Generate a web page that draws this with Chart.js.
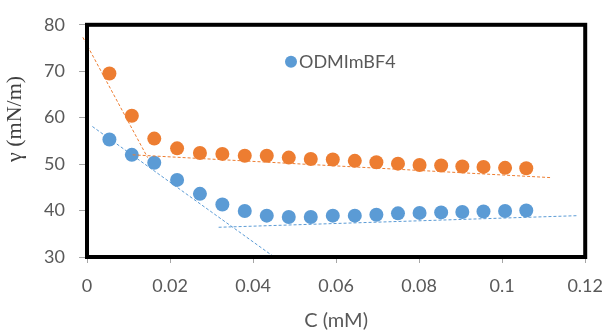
<!DOCTYPE html>
<html>
<head>
<meta charset="utf-8">
<script src="https://cdn.jsdelivr.net/npm/chart.js@4.4.1/dist/chart.umd.min.js"></script>
<style>
  html, body { margin: 0; padding: 0; background: #fff; }
  #wrap { width: 615px; height: 335px; }
</style>
</head>
<body>
<div id="wrap"><canvas id="surfChart" width="615" height="335"></canvas></div>
<script>
// concentration C (mM)
const concentrations = [0.0054, 0.0108, 0.0162, 0.0217, 0.0272, 0.0326, 0.038, 0.0433, 0.0486, 0.0539,
    0.0592, 0.0645, 0.0697, 0.0749, 0.0801, 0.0853, 0.0904, 0.0955, 0.1007, 0.1058];
// surface tension γ (mN/m)
const gammaOrange = [69.5, 60.4, 55.5, 53.4, 52.4, 52.2, 51.8, 51.8, 51.4, 51.1,
    51.0, 50.7, 50.4, 50.1, 49.8, 49.7, 49.5, 49.4, 49.2, 49.1];
const gammaBlue = [55.3, 52.0, 50.3, 46.6, 43.6, 41.3, 39.9, 38.9, 38.6, 38.6,
    38.9, 38.9, 39.1, 39.4, 39.5, 39.6, 39.7, 39.8, 39.9, 40.0];

// trend line end points [x, y]
const orangeSteep = [[-0.001, 77.3], [0.0146, 51.4]];
const orangeFlat = [[0.011, 52.0], [0.1116, 47.1]];
const blueSteep = [[0.0013, 58.1], [0.0454, 29.8]];
const blueFlat = [[0.0317, 36.4], [0.1182, 38.9]];

const blueLabel = 'ODMImBF4';
const xTicks = [0, 0.02, 0.04, 0.06, 0.08, 0.1, 0.12];
const yTicks = [30, 40, 50, 60, 70, 80];

const ORANGE = '#ed7d31';
const BLUE = '#5b9bd5';
const GREY = '#595959';

function toPoints(xs, ys) {
    return xs.map((x, i) => ({ x: x, y: ys[i] }));
}
function pairToPoints(pair) {
    return pair.map(p => ({ x: p[0], y: p[1] }));
}
function trend(pair, color, noClip) {
    const ds = {
        type: 'line',
        label: '',
        data: pairToPoints(pair),
        borderColor: color,
        borderWidth: 1,
        borderDash: [3, 2],
        pointRadius: 0,
        fill: false
    };
    if (noClip) ds.clip = false;
    return ds;
}

// black frame round the plot area
const frame = {
    id: 'frame',
    afterDatasetsDraw(chart) {
        const a = chart.chartArea;
        const ctx = chart.ctx;
        ctx.save();
        ctx.strokeStyle = '#000';
        ctx.lineWidth = 4;
        ctx.strokeRect(a.left, a.top, a.right - a.left, a.bottom - a.top);
        ctx.restore();
    }
};

// legend inside the plot, only for the labelled series
const innerLegend = {
    id: 'innerLegend',
    afterDraw(chart) {
        const a = chart.chartArea;
        const ctx = chart.ctx;
        const ds = chart.data.datasets.find(d => d.label);
        if (!ds) return;
        const cx = a.left + 204;
        const cy = a.top + 37;
        ctx.save();
        ctx.fillStyle = ds.backgroundColor;
        ctx.beginPath();
        ctx.arc(cx, cy, 6, 0, Math.PI * 2);
        ctx.fill();
        ctx.fillStyle = GREY;
        ctx.font = '18px Lato';
        ctx.textBaseline = 'middle';
        ctx.textAlign = 'left';
        ctx.fillText(ds.label, cx + 8, cy);
        ctx.restore();
    }
};

const ctx = document.getElementById('surfChart').getContext('2d');
new Chart(ctx, {
    type: 'scatter',
    data: {
        datasets: [
            trend(orangeSteep, ORANGE, true),
            trend(orangeFlat, ORANGE),
            trend(blueSteep, BLUE),
            trend(blueFlat, BLUE),
            {
                label: '',
                data: toPoints(concentrations, gammaOrange),
                backgroundColor: ORANGE,
                borderWidth: 0,
                pointRadius: 7,
                pointHoverRadius: 7
            },
            {
                label: blueLabel,
                data: toPoints(concentrations, gammaBlue),
                backgroundColor: BLUE,
                borderWidth: 0,
                pointRadius: 7,
                pointHoverRadius: 7
            }
        ]
    },
    options: {
        responsive: false,
        animation: false,
        devicePixelRatio: 1,
        layout: { padding: { top: 23, right: 22, left: 0, bottom: 0 } },
        plugins: {
            tooltip: { enabled: false },
            legend: { display: false }
        },
        scales: {
            x: {
                type: 'linear',
                min: 0,
                max: 0.12,
                afterBuildTicks: s => { s.ticks = xTicks.map(v => ({ value: v })); },
                afterFit: s => { s.height = 78; },
                ticks: {
                    color: GREY,
                    padding: 12,
                    font: { family: 'Lato', size: 18 },
                    callback: v => String(v)
                },
                grid: { drawOnChartArea: false, tickLength: 6, color: '#a6a6a6' },
                border: { display: false },
                title: {
                    display: true,
                    text: 'C (mM)',
                    color: GREY,
                    padding: { top: 0, bottom: 2 },
                    font: { family: 'Lato', size: 20 }
                }
            },
            y: {
                type: 'linear',
                min: 30,
                max: 80,
                afterBuildTicks: s => { s.ticks = yTicks.map(v => ({ value: v })); },
                afterFit: s => { s.width = 87; },
                ticks: {
                    color: GREY,
                    padding: 14,
                    font: { family: 'Lato', size: 18 }
                },
                grid: { drawOnChartArea: false, tickLength: 8, color: '#a6a6a6' },
                border: { display: false },
                title: {
                    display: true,
                    text: '        γ (mN/m)',
                    color: '#404040',
                    padding: { top: 2, bottom: 0 },
                    font: { family: 'Liberation Serif', size: 22 }
                }
            }
        }
    },
    plugins: [frame, innerLegend]
});
</script>
</body>
</html>
